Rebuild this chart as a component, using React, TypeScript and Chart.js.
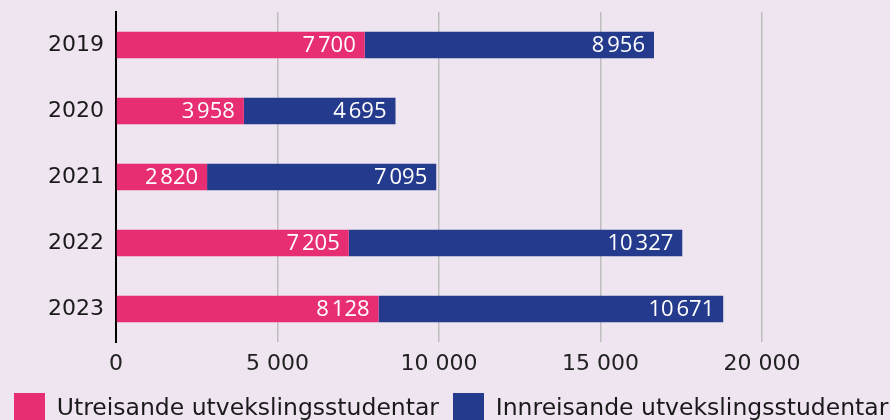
import React, { useEffect, useRef } from "react";
import { Chart, registerables } from "chart.js";

Chart.register(...registerables);

const categories = ["2019", "2020", "2021", "2022", "2023"];
const utreisande = [7700, 3958, 2820, 7205, 8128];
const innreisande = [8956, 4695, 7095, 10327, 10671];
const seriesNames = ["Utreisande utvekslingsstudentar", "Innreisande utvekslingsstudentar"];
const xMax = 20000;
const xStep = 5000;

const PINK = "#E82E72";
const NAVY = "#243A8C";
const BG = "#EFE5F1";
const FONT = "'Open Sans', 'DejaVu Sans', sans-serif";
const AXFONT = "'DejaVu Sans', sans-serif";

const W = 960;
const H = 434;

function fmt(v: number, sep: string) {
  return String(v).replace(/\B(?=(\d{3})+(?!\d))/g, sep);
}

const valueLabels = {
  id: "valueLabels",
  afterDatasetsDraw(chart: any) {
    const ctx = chart.ctx;
    ctx.save();
    ctx.fillStyle = "#ffffff";
    ctx.font = `22px ${FONT}`;
    ctx.textAlign = "right";
    ctx.textBaseline = "middle";
    chart.data.datasets.forEach((ds: any, di: number) => {
      const meta = chart.getDatasetMeta(di);
      meta.data.forEach((el: any, i: number) => {
        const v = ds.data[i];
        ctx.fillText(fmt(v, "\u202F"), el.x - 9, el.y + 1);
      });
    });
    ctx.restore();
  },
};

const bgPlugin = {
  id: "bg",
  beforeDraw(chart: any) {
    const ctx = chart.ctx;
    ctx.save();
    ctx.fillStyle = BG;
    ctx.fillRect(0, 0, chart.width, chart.height);
    ctx.restore();
  },
};

export default function App() {
  const ref = useRef<HTMLCanvasElement | null>(null);
  useEffect(() => {
    if (!ref.current) return;
    const chart = new Chart(ref.current, {
      type: "bar",
      data: {
        labels: categories,
        datasets: [
          {
            label: seriesNames[0],
            data: utreisande,
            backgroundColor: PINK,
            borderWidth: 0,
            categoryPercentage: 1,
            barPercentage: 0.405,
          },
          {
            label: seriesNames[1],
            data: innreisande,
            backgroundColor: NAVY,
            borderWidth: 0,
            categoryPercentage: 1,
            barPercentage: 0.405,
          },
        ],
      },
      options: {
        indexAxis: "y",
        responsive: false,
        animation: false,
        devicePixelRatio: 1,
        layout: { padding: { left: 0, top: 12, right: 0, bottom: 0 } },
        plugins: {
          legend: {
            position: "bottom",
            align: "start",
            labels: {
              boxWidth: 31,
              boxHeight: 31,
              padding: 14,
              color: "#1a1a1a",
              font: { size: 23.5, family: AXFONT },
            },
          },
          tooltip: { enabled: false },
        },
        scales: {
          x: {
            stacked: true,
            min: 0,
            max: xMax,
            ticks: {
              stepSize: xStep,
              padding: 9,
              color: "#222",
              font: { size: 22, family: AXFONT },
              callback: (v: any) => fmt(Number(v), " "),
            },
            grid: { color: "#BDBDBD", lineWidth: 1.5, drawTicks: false },
            border: { display: false },
            afterFit: (s: any) => {
              s.height = 37;
              s.paddingLeft = 0;
              s.paddingRight = 0;
            },
          },
          y: {
            stacked: true,
            position: "left",
            ticks: {
              padding: 12,
              color: "#1a1a1a",
              font: { size: 22, family: AXFONT },
            },
            grid: { display: false, drawTicks: false },
            border: { display: true, color: "#000", width: 2 },
            afterFit: (s: any) => {
              s.width = 116;
              s.paddingTop = 0;
              s.paddingBottom = 0;
            },
          },
          yRight: {
            type: "category",
            position: "right",
            display: true,
            ticks: { display: false },
            grid: { display: false, drawTicks: false },
            border: { display: false },
            afterFit: (s: any) => {
              s.width = W - 762;
              s.paddingTop = 0;
              s.paddingBottom = 0;
            },
          },
        },
      },
      plugins: [bgPlugin, valueLabels],
    } as any);
    return () => chart.destroy();
  }, []);
  return (
    <div
      style={{
        position: "fixed",
        left: 0,
        top: 0,
        width: 890,
        height: 420,
        overflow: "hidden",
        background: BG,
      }}
    >
      <canvas ref={ref} width={W} height={H} style={{ display: "block", width: W, height: H }} />
    </div>
  );
}
